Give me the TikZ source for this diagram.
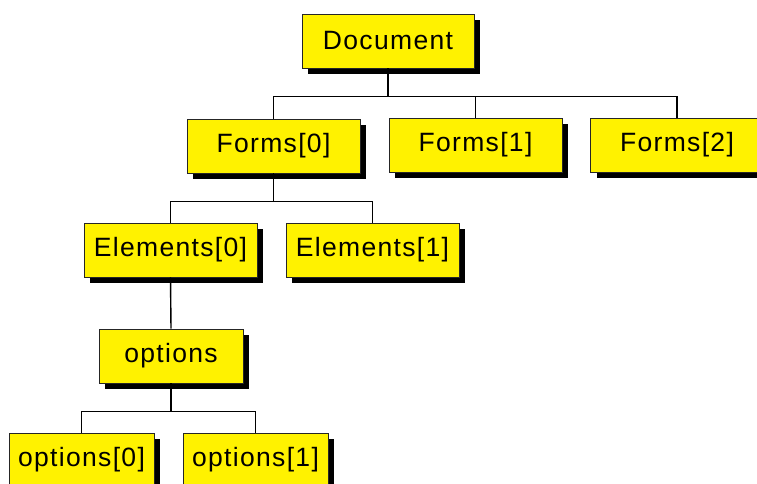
\documentclass[tikz,border=0pt]{standalone}
\usepackage{fontspec}
\setmainfont{Liberation Sans}[LetterSpace=5]
\usetikzlibrary{shadows}

\begin{document}
\begin{tikzpicture}[x=1pt, y=-1pt, font=\fontsize{26.5}{30}\selectfont,
  box/.style={draw=black!85, line width=0.9pt, fill=yellow, minimum height=54pt,
    inner sep=0pt, drop shadow={shadow xshift=6pt, shadow yshift=-6pt, fill=black, opacity=1}},
  widebox/.style={box, minimum width=173pt},
  smallbox/.style={box, minimum width=145pt},
  link/.style={line width=1.4pt}]
  \useasboundingbox (0,0) rectangle (757,483);
  % tree nodes
  \node[widebox, minimum width=172pt] (doc) at (388,41) {Document};
  \node[widebox] (f0) at (273.5,146) {Forms[0]};
  \node[widebox] (f1) at (475.5,145) {Forms[1]};
  \node[widebox] (f2) at (677,145) {Forms[2]};
  \node[widebox] (e0) at (170.5,250) {Elements[0]};
  \node[widebox] (e1) at (372.5,250) {Elements[1]};
  \node[smallbox, minimum width=144pt] (opt) at (171,356) {options};
  \node[smallbox] (o0) at (81.5,460) {options[0]};
  \node[smallbox] (o1) at (255.5,460) {options[1]};
  % connectors
  \foreach \c in {f0,f1,f2}
    \draw[link] (doc.south) -- ++(0,28) -| (\c.north);
  \foreach \c in {e0,e1}
    \draw[link] (f0.south) -- ++(0,28) -| (\c.north);
  \draw[link] (e0.south) -- (opt.north);
  \foreach \c in {o0,o1}
    \draw[link] (opt.south) -- ++(0,28) -| (\c.north);
\end{tikzpicture}
\end{document}
